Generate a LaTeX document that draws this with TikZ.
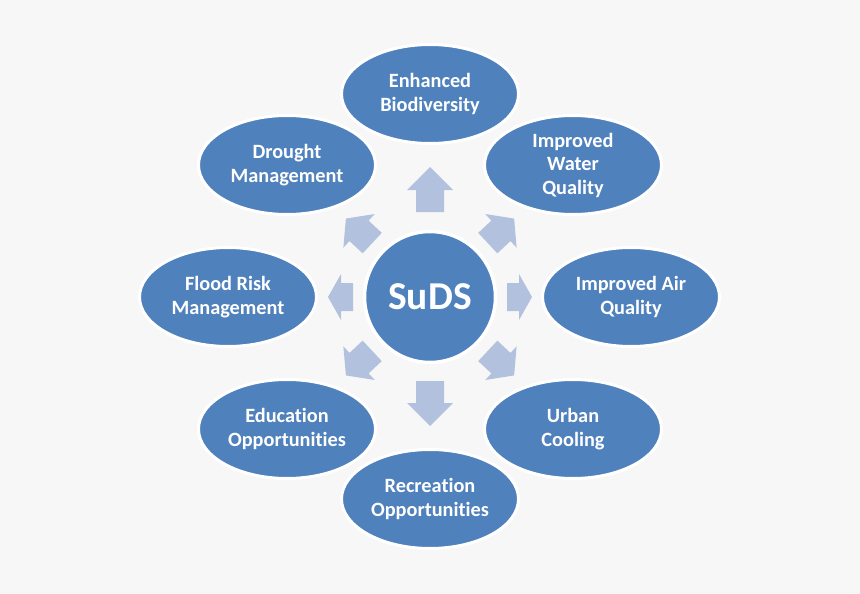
\documentclass[tikz,border=0pt]{standalone}
\usepackage{fontspec}
\setmainfont{Carlito}[Ligatures=NoCommon]
\usetikzlibrary{shapes.geometric}
\definecolor{bgcol}{HTML}{F7F7F7}
\definecolor{bluefill}{HTML}{4F81BD}
\definecolor{arrowfill}{HTML}{B2C2DE}
\tikzset{
  benefit/.style={ellipse, fill=bluefill, draw=white, line width=3pt,
    minimum width=177pt, minimum height=99pt, inner sep=0pt,
    text=white, align=center, font=\bfseries\fontsize{20.3}{23.5}\selectfont},
  hub/.style={circle, fill=bluefill, draw=white, line width=3.5pt,
    minimum size=131pt, inner sep=0pt, text=white,
    font=\bfseries\fontsize{39.5}{42}\selectfont},
  blockarrow/.style={fill=arrowfill}
}
% #1 angle, #2 tail radius, #3 length, #4 head length
\newcommand\radarrow[4]{%
  \begin{scope}[shift={(hubc)}, rotate=#1]
    \fill[blockarrow] (#2,-14) -- ({#2+#3-#4},-14) -- ({#2+#3-#4},-23) -- ({#2+#3},0)
      -- ({#2+#3-#4},23) -- ({#2+#3-#4},14) -- (#2,14) -- cycle;
  \end{scope}}
\begin{document}
\begin{tikzpicture}[x=1pt,y=-1pt]
  \fill[bgcol] (0,0) rectangle (860,594);
  \useasboundingbox (0,0) rectangle (860,594);
  \coordinate (hubc) at (430,297);
  % arrows (y axis points down, so negative angle = upward)
  \radarrow{-90}{84}{45}{23}
  \radarrow{90}{85}{45}{23}
  \radarrow{0}{77}{25}{13}
  \radarrow{180}{77}{25}{13}
  \radarrow{-43}{79}{36}{18}
  \radarrow{43}{79}{36}{18}
  \radarrow{-137}{79}{36}{18}
  \radarrow{137}{79}{36}{18}
  % hub
  \node[hub] (suds) at (hubc) {SuDS};
  % benefits
  \node[benefit] (bio) at (430,94) {Enhanced\\Biodiversity};
  \node[benefit] (water) at (573,165) {Improved\\Water\\Quality};
  \node[benefit] (air) at (631,297) {Improved Air\\Quality};
  \node[benefit] (cool) at (573,429) {Urban\\Cooling};
  \node[benefit] (rec) at (430,499) {Recreation\\Opportunities};
  \node[benefit] (edu) at (287,429) {Education\\Opportunities};
  \node[benefit] (flood) at (228,297) {Flood Risk\\Management};
  \node[benefit] (drought) at (287,165) {Drought\\Management};
\end{tikzpicture}
\end{document}
